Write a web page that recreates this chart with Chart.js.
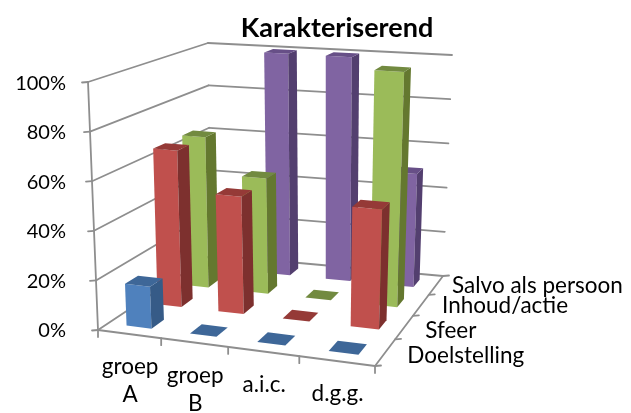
<!DOCTYPE html>
<html><head><meta charset="utf-8">
<style>html,body{margin:0;padding:0;background:#fff}#w{width:631px;height:413px}</style>
<script src="https://cdn.jsdelivr.net/npm/chart.js@4"></script></head>
<body><div id="w"><canvas id="c" width="631" height="413"></canvas></div>
<script>
const categories = [["groep","A"],["groep","B"],["a.i.c."],["d.g.g."]];
const seriesNames = ["Doelstelling","Sfeer","Inhoud/actie","Salvo als persoon"];
const doelstelling = [17,0,0,0];
const sfeer = [66,49,0,49];
const inhoud = [66,50,0,100];
const salvo = [0,100,100,50];
const yTicks = [0,20,40,60,80,100];
const faceColors = ["#4F81BD","#C0504D","#9BBB59","#8064A2"];
const sideColors = ["#365B87","#7D302E","#64782F","#533F6F"];
const topColors  = ["#3E6798","#953A37","#728A40","#674F87"];
const axisColor = "#8E8E8E";
const font = "Lato, Carlito, sans-serif";
const seriesLabelDx = [22,21,21,16];
const seriesLabelDy = [3,3,1,1];

// wall and floor corners of the 3D box: [x,y] at u(left→right), z(front→back)
const floorC = {fl:[98,330],fr:[375,366],br:[443,276],bl:[211,255]};
const topC   = {fl:[88,82],fr:[383,106],br:[452,55],bl:[208,43]};

function homography(c){
  const [x0,y0]=c.fl,[x1,y1]=c.fr,[x2,y2]=c.br,[x3,y3]=c.bl;
  const dx1=x1-x2,dx2=x3-x2,sx=x0-x1+x2-x3,dy1=y1-y2,dy2=y3-y2,sy=y0-y1+y2-y3;
  const d=dx1*dy2-dx2*dy1;
  const g=(sx*dy2-dx2*sy)/d,h=(dx1*sy-sx*dy1)/d;
  const a=x1-x0+g*x1,b=x3-x0+h*x3,e=y1-y0+g*y1,f=y3-y0+h*y3;
  return (u,z)=>{const w=g*u+h*z+1;return [(a*u+b*z+x0)/w,(e*u+f*z+y0)/w];};
}
const floorH=homography(floorC),topH=homography(topC);
function P(u,z,t){const a=floorH(u,z),b=topH(u,z);return [a[0]+(b[0]-a[0])*t,a[1]+(b[1]-a[1])*t];}

function poly(ctx,pts,fill){ctx.beginPath();pts.forEach((p,i)=>i?ctx.lineTo(p[0],p[1]):ctx.moveTo(p[0],p[1]));ctx.closePath();ctx.fillStyle=fill;ctx.fill();}
function line(ctx,a,b,w){ctx.beginPath();ctx.moveTo(a[0],a[1]);ctx.lineTo(b[0],b[1]);ctx.lineWidth=w||1.8;ctx.strokeStyle=axisColor;ctx.stroke();}

const box3d={
  id:"box3d",
  beforeDatasetsDraw(chart){
    const ctx=chart.ctx,y=chart.scales.y;
    const frac=v=>(y.bottom-y.getPixelForValue(v))/(y.bottom-y.top);
    ctx.save();ctx.lineCap="round";
    y.ticks.forEach(tk=>{
      const t=frac(tk.value);
      const a=P(0,0,t),b=P(0,1,t),c=P(1,1,t);
      line(ctx,[a[0]-6,a[1]+0.5],a);
      line(ctx,a,b);line(ctx,b,c);
    });
    line(ctx,P(0,0,0),P(0,0,1));
    line(ctx,P(0,0,0),P(1,0,0));
    line(ctx,P(1,0,0),P(1,1,0));
    categories.forEach((_,i)=>{const p=P(i/categories.length,0,0);line(ctx,p,[p[0],p[1]+7]);});
    const endP=P(1,0,0);line(ctx,endP,[endP[0],endP[1]+7]);
    seriesNames.forEach((_,i)=>{const p=P(1,i/seriesNames.length,0);line(ctx,p,[p[0]+6,p[1]-0.5]);});
    const bk=P(1,1,0);line(ctx,bk,[bk[0]+6,bk[1]-0.5]);
    ctx.restore();
  },
  beforeDatasetDraw(){return false;},
  afterDatasetsDraw(chart){
    const ctx=chart.ctx,a=chart.chartArea,n=chart.data.datasets.length,y=chart.scales.y;
    for(let s=n-1;s>=0;s--){
      const z0=(s+0.3)/n,z1=(s+0.7)/n;
      chart.getDatasetMeta(s).data.forEach(el=>{
        const u0=(el.x-el.width/2-a.left)/a.width,u1=(el.x+el.width/2-a.left)/a.width;
        const t=(y.bottom-el.y)/(y.bottom-y.top);
        if(t>0){
          poly(ctx,[P(u0,z0,0),P(u1,z0,0),P(u1,z0,t),P(u0,z0,t)],faceColors[s]);
          poly(ctx,[P(u1,z0,0),P(u1,z1,0),P(u1,z1,t),P(u1,z0,t)],sideColors[s]);
        }
        poly(ctx,[P(u0,z0,t),P(u1,z0,t),P(u1,z1,t),P(u0,z1,t)],topColors[s]);
      });
    }
  },
  afterDraw(chart){
    const ctx=chart.ctx;
    ctx.save();ctx.fillStyle="#000";ctx.font="22.5px "+font;ctx.textBaseline="middle";
    ctx.textAlign="center";
    categories.forEach((lab,i)=>{
      const p=P((i+0.5)/categories.length,0,0);
      lab.forEach((l,k)=>ctx.fillText(l,p[0]+1,p[1]+33+k*28));
    });
    ctx.textAlign="left";
    seriesNames.forEach((l,i)=>{
      const p=P(1,(i+0.5)/seriesNames.length,0);
      ctx.fillText(l,p[0]+seriesLabelDx[i],p[1]+seriesLabelDy[i]);
    });
    ctx.restore();
  }
};

new Chart(document.getElementById("c"),{
  type:"bar",
  data:{labels:categories.map(c=>c.join(" ")),
    datasets:[doelstelling,sfeer,inhoud,salvo].map((d,i)=>({label:seriesNames[i],data:d,backgroundColor:faceColors[i]}))},
  options:{
    responsive:false,animation:false,
    events:[],
    layout:{padding:{left:14,right:55,top:0,bottom:83}},
    datasets:{bar:{grouped:false,categoryPercentage:1,barPercentage:0.4}},
    plugins:{
      legend:{display:false},tooltip:{enabled:false},
      title:{display:true,fullSize:false,text:"Karakteriserend",color:"#000",
        font:{family:font,size:27,weight:"bold"},padding:{top:12,bottom:38}}
    },
    scales:{
      x:{display:false},
      y:{min:0,max:100,
        afterBuildTicks(s){s.ticks=yTicks.map(v=>({value:v}));},
        afterFit(s){s.width=84;},
        grid:{display:false,drawTicks:false},border:{display:false},
        ticks:{padding:32,labelOffset:1,color:"#000",font:{family:font,size:20},callback:v=>v+"%"}}
    }
  },
  plugins:[box3d]
});
</script></body></html>
